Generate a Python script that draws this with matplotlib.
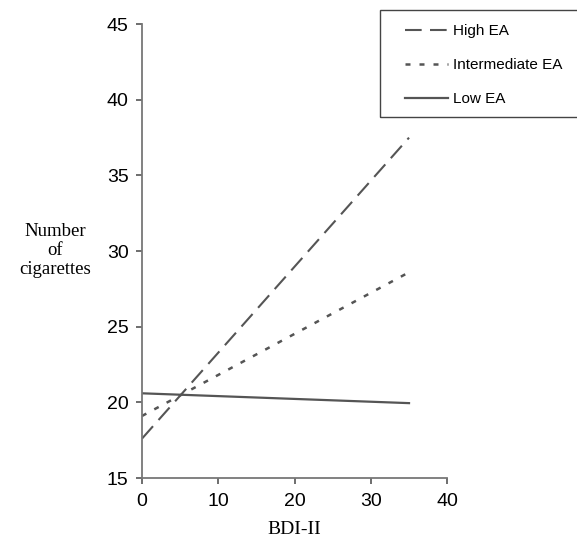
import matplotlib.pyplot as plt
from matplotlib.patches import Rectangle

bdi = [0, 35]
high_ea = [17.6, 37.5]
mid_ea = [19.1, 28.6]
low_ea = [20.6, 19.95]

plt.rcParams['font.family'] = 'Liberation Sans'
col = '#555555'

fig = plt.figure(figsize=(5.77, 5.38), dpi=100)
ax = fig.add_axes([0.246, 0.1115, 0.529, 0.8435])

ax.plot(bdi, high_ea, color=col, lw=1.5, dashes=(8, 4), label='High EA')
ax.plot(bdi, mid_ea, color=col, lw=1.8, dashes=(2, 3.6), label='Intermediate EA')
ax.plot(bdi, low_ea, color=col, lw=1.6, label='Low EA')

ax.set_xlim(0, 40)
ax.set_ylim(15, 45)
ax.set_xticks(range(0, 41, 10))
ax.set_yticks(range(15, 46, 5))
for s in ['top', 'right']:
    ax.spines[s].set_visible(False)
for s in ['left', 'bottom']:
    ax.spines[s].set_color('#777777')
    ax.spines[s].set_linewidth(1.3)
ax.tick_params(colors='#555555', labelcolor='black', labelsize=14, length=4.5, width=1.2, pad=5)
ax.tick_params(axis='x', pad=6)

ax.set_xlabel('BDI-II', family='Liberation Serif', fontsize=14, labelpad=8)
fig.text(0.095, 0.535, 'Number\nof\ncigarettes', family='Liberation Serif',
         fontsize=13.5, ha='center', va='center', linespacing=1.15)

# legend box runs off the right edge in the original
fig.patches.append(Rectangle((0.6586, 0.7825), 0.5, 0.1989, transform=fig.transFigure,
                             fill=False, edgecolor='#444444', lw=1.0))
leg = fig.legend(loc='upper left', bbox_to_anchor=(405 / 577, 0.955), fontsize=11,
                 frameon=False, handlelength=2.8, handletextpad=0.33,
                 labelspacing=1.3, borderpad=0, borderaxespad=0)

fig.savefig('out.png', dpi=100)
